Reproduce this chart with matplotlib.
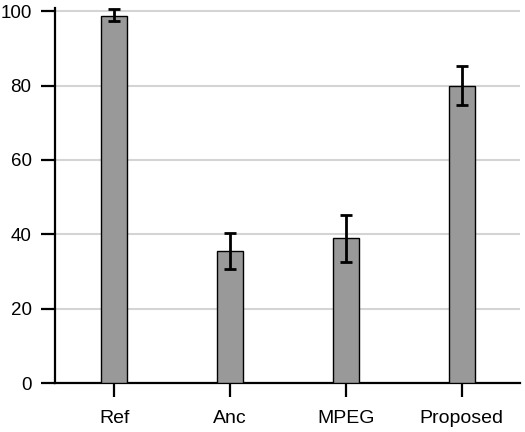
import matplotlib
matplotlib.use("Agg")
import matplotlib.pyplot as plt
import numpy as np

# data
methods = ["Ref", "Anc", "MPEG", "Proposed"]
scores = [98.7, 35.5, 38.9, 80.0]
err_low = [97.3, 30.7, 32.5, 74.9]
err_high = [100.5, 40.5, 45.1, 85.3]
y_ticks = [0, 20, 40, 60, 80, 100]

plt.rcParams['font.family'] = ['Liberation Sans', 'DejaVu Sans']

fig = plt.figure(figsize=(5.25, 4.32), dpi=100)
ax = fig.add_axes([0.105, 0.113, 0.885, 0.868])

x = np.arange(len(methods))
yerr = [np.array(scores) - np.array(err_low), np.array(err_high) - np.array(scores)]
ax.bar(x, scores, width=0.22, color="#999999", edgecolor="black", linewidth=1.0, zorder=3)
ax.errorbar(x, scores, yerr=yerr, fmt="none", ecolor="black", elinewidth=2.0,
            capsize=4.5, capthick=2.0, zorder=4)

ax.set_xlim(-0.51, 3.5)
ax.set_ylim(0, 100.8)
ax.set_xticks(x)
ax.set_xticklabels(methods, fontsize=14)
ax.set_yticks(y_ticks)
ax.set_yticklabels([str(v) for v in y_ticks], fontsize=13.5)

ax.yaxis.grid(True, color="#d4d4d4", linewidth=1.5, zorder=0)
ax.set_axisbelow(True)

for s in ["top", "right"]:
    ax.spines[s].set_visible(False)
ax.spines["left"].set_linewidth(1.6)
ax.spines["bottom"].set_linewidth(1.6)
ax.tick_params(axis="both", direction="out", length=10, width=1.6)
ax.tick_params(axis="x", pad=9)
ax.tick_params(axis="y", pad=7)

fig.savefig("out.png", dpi=100)
